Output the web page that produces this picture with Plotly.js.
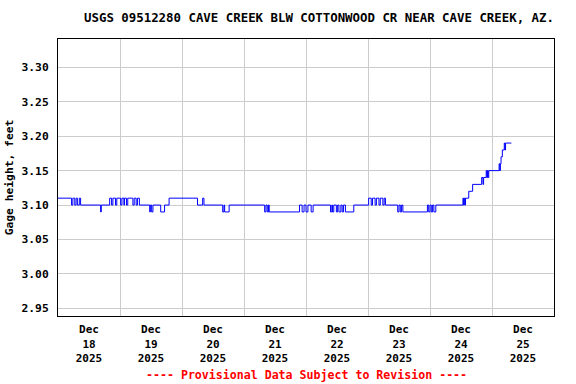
<!DOCTYPE html>
<html>
<head>
<meta charset="utf-8">
<script src="https://cdn.plot.ly/plotly-3.0.1.min.js"></script>
<style>html,body{margin:0;padding:0;background:#fff;}#chart{width:576px;height:384px;}</style>
</head>
<body>
<div id="chart"></div>
<script>
var chartTitle = "USGS 09512280 CAVE CREEK BLW COTTONWOOD CR NEAR CAVE CREEK, AZ.";
var yAxisTitle = "Gage height, feet";
var footerText = "---- Provisional Data Subject to Revision ----";
var yTickValues = [2.95, 3.00, 3.05, 3.10, 3.15, 3.20, 3.25, 3.30];
var yTickLabels = ["2.95", "3.00", "3.05", "3.10", "3.15", "3.20", "3.25", "3.30"];

var times = [
"2025-12-18 00:00","2025-12-18 05:15","2025-12-18 05:45","2025-12-18 06:30","2025-12-18 07:00",
"2025-12-18 07:30","2025-12-18 08:15","2025-12-18 08:45","2025-12-18 16:30","2025-12-18 16:45",
"2025-12-18 20:00","2025-12-18 20:45","2025-12-18 21:15","2025-12-18 22:15","2025-12-18 22:45",
"2025-12-19 00:15","2025-12-19 00:45","2025-12-19 01:30","2025-12-19 01:45","2025-12-19 02:30",
"2025-12-19 03:00","2025-12-19 05:00","2025-12-19 05:30","2025-12-19 06:15","2025-12-19 06:45",
"2025-12-19 07:30","2025-12-19 11:30","2025-12-19 11:45","2025-12-19 12:15","2025-12-19 12:45",
"2025-12-19 15:45","2025-12-19 17:15","2025-12-19 19:00","2025-12-20 06:00","2025-12-20 08:00",
"2025-12-20 08:30","2025-12-20 15:45","2025-12-20 16:15","2025-12-20 16:30","2025-12-20 18:15",
"2025-12-21 08:00","2025-12-21 08:30","2025-12-21 09:00","2025-12-21 09:30","2025-12-21 09:45",
"2025-12-21 21:30","2025-12-21 22:30","2025-12-21 23:15","2025-12-22 00:00","2025-12-22 00:45",
"2025-12-22 02:00","2025-12-22 02:45","2025-12-22 09:30","2025-12-22 10:00","2025-12-22 10:15",
"2025-12-22 10:45","2025-12-22 11:45","2025-12-22 12:15","2025-12-22 12:45","2025-12-22 13:30",
"2025-12-22 14:00","2025-12-22 14:30","2025-12-22 15:15","2025-12-22 18:30","2025-12-23 00:15",
"2025-12-23 01:15","2025-12-23 01:45","2025-12-23 02:45","2025-12-23 03:15","2025-12-23 04:15",
"2025-12-23 04:45","2025-12-23 05:45","2025-12-23 06:15","2025-12-23 06:45","2025-12-23 11:30",
"2025-12-23 12:00","2025-12-23 12:30","2025-12-23 13:00","2025-12-23 13:30","2025-12-23 23:00",
"2025-12-23 23:30","2025-12-24 00:00","2025-12-24 00:30","2025-12-24 01:00","2025-12-24 01:30",
"2025-12-24 02:15","2025-12-24 12:45","2025-12-24 13:00","2025-12-24 13:15","2025-12-24 13:30",
"2025-12-24 13:45","2025-12-24 15:00","2025-12-24 16:30","2025-12-24 20:00","2025-12-24 20:30",
"2025-12-24 20:45","2025-12-24 21:45","2025-12-24 22:00","2025-12-24 22:15","2025-12-24 22:30",
"2025-12-24 22:45","2025-12-25 02:45","2025-12-25 03:00","2025-12-25 03:15","2025-12-25 03:30",
"2025-12-25 04:00","2025-12-25 04:45","2025-12-25 05:00","2025-12-25 05:15","2025-12-25 07:30"
];
var gageHeight = [
3.11,3.10,3.11,3.10,3.11,
3.10,3.11,3.10,3.09,3.10,
3.11,3.10,3.11,3.10,3.11,
3.10,3.11,3.10,3.11,3.10,
3.11,3.10,3.11,3.10,3.11,
3.10,3.09,3.10,3.09,3.10,
3.09,3.10,3.11,3.10,3.11,
3.10,3.09,3.10,3.09,3.10,
3.09,3.10,3.09,3.10,3.09,
3.10,3.09,3.10,3.09,3.10,
3.09,3.10,3.09,3.10,3.09,
3.10,3.09,3.10,3.09,3.10,
3.09,3.10,3.09,3.10,3.11,
3.10,3.11,3.10,3.11,3.10,
3.11,3.10,3.11,3.10,3.09,
3.10,3.09,3.10,3.09,3.10,
3.09,3.10,3.09,3.10,3.09,
3.10,3.11,3.10,3.11,3.10,
3.11,3.12,3.13,3.14,3.13,
3.14,3.15,3.14,3.15,3.14,
3.15,3.16,3.15,3.16,3.17,
3.18,3.19,3.18,3.19,3.19
];

var mono = "DejaVu Sans Mono, Liberation Mono, monospace";

var trace = {
  x: times, y: gageHeight, type: "scatter", mode: "lines",
  line: {color: "#0000ff", width: 1, shape: "hv"},
  hoverinfo: "skip"
};

var layout = {
  width: 576, height: 384,
  paper_bgcolor: "#ffffff", plot_bgcolor: "#ffffff",
  margin: {l: 58, r: 22, t: 39, b: 68, pad: 0},
  showlegend: false,
  font: {family: mono, size: 11, color: "#000000", weight: "bold"},
  title: {
    text: chartTitle,
    font: {family: mono, size: 12.4, color: "#000000", weight: "bold"},
    xref: "container", yref: "container",
    x: 319/576, xanchor: "center", y: 1 - 18/384, yanchor: "middle"
  },
  xaxis: {
    type: "date",
    range: ["2025-12-18 00:00", "2025-12-26 00:00"],
    tick0: "2025-12-18", dtick: 86400000,
    ticklabelmode: "period",
    tickformat: "%b<br>%d<br>%Y",
    ticks: "", ticklabelstandoff: 3,
    showgrid: true, gridcolor: "#cccccc", gridwidth: 1,
    showline: true, linecolor: "#000000", linewidth: 1, mirror: true,
    zeroline: false,
    tickfont: {family: mono, size: 11, color: "#000000", weight: "bold"}
  },
  yaxis: {
    range: [2.939, 3.341],
    tickvals: yTickValues, ticktext: yTickLabels,
    ticks: "", ticklabelstandoff: 6,
    showgrid: true, gridcolor: "#cccccc", gridwidth: 1,
    showline: true, linecolor: "#000000", linewidth: 1, mirror: true,
    zeroline: false,
    tickfont: {family: mono, size: 11.3, color: "#000000", weight: "bold"},
    title: {text: yAxisTitle, font: {family: mono, size: 11.3, color: "#000000", weight: "bold"}, standoff: 5}
  },
  annotations: [{
    text: footerText, xref: "paper", yref: "paper",
    x: (306 - 58) / 496, y: (316 - 375) / 277, xanchor: "center", yanchor: "middle",
    showarrow: false,
    font: {family: mono, size: 11.6, color: "#ff0000", weight: "bold"}
  }]
};

Plotly.newPlot("chart", [trace], layout, {staticPlot: true, displayModeBar: false});
</script>
</body>
</html>
